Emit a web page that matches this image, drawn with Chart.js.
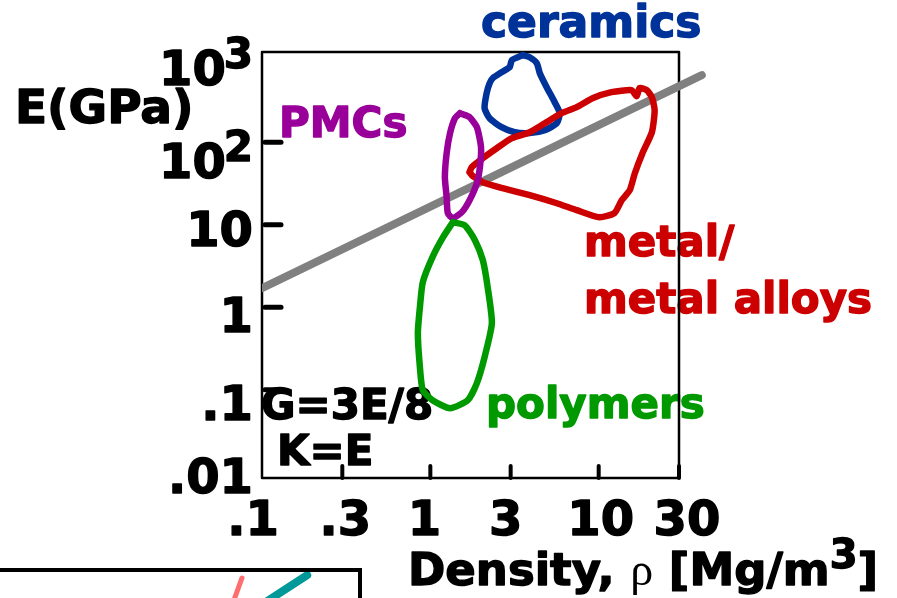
<!DOCTYPE html>
<html><head><meta charset="utf-8">
<script src="https://cdn.jsdelivr.net/npm/chart.js@4.4.1/dist/chart.umd.min.js"></script>
<style>
html,body{margin:0;padding:0;background:#fff;overflow:hidden;}
#wrap{position:relative;width:897px;height:598px;overflow:hidden;}
#main{position:absolute;left:0;top:0;}
#insetBox{position:absolute;left:-5px;top:568px;width:363px;height:40px;border-top:4px solid #000;border-right:4px solid #000;}
#inset{position:absolute;left:0;top:572px;}
</style></head>
<body><div id="wrap"><canvas id="main" width="897" height="598"></canvas><div id="insetBox"></div><canvas id="inset" width="358" height="26"></canvas></div>
<script>
// ---------- data (density in Mg/m^3, modulus E in GPa) ----------
const guideDensity = [0.1, 41];
const guideModulus = [1.7, 650];

const ceramicsDensity = [3.54, 3.05, 2.96, 2.65, 2.35, 2.25, 2.16, 2.10, 2.25, 2.65, 3.17, 3.89, 4.79, 5.64, 5.87, 5.48, 4.91, 4.47, 4.29, 3.89, 3.54];
const ceramicsModulus = [1135, 986, 811, 705, 597, 519, 393, 258, 195, 152, 132, 129, 140, 170, 225, 305, 464, 686, 908, 1072, 1135];

const metalDensity = [1.71, 1.76, 2.05, 2.48, 3.05, 3.89, 4.79, 6.03, 7.40, 9.20, 11.9, 15.7, 16.8, 17.5, 19.3, 20.7, 21.5, 20.7, 18.2, 16.4, 15.3, 13.7, 12.4, 10.1, 7.40, 5.64, 3.89, 2.69, 2.05, 1.79, 1.71];
const metalModulus = [43.3, 49.8, 64.0, 84.5, 112, 132, 170, 225, 266, 341, 404, 427, 361, 452, 427, 351, 244, 132, 73.6, 42.1, 26.2, 19.8, 13.8, 12.3, 15.0, 18.2, 22.8, 27.7, 32.7, 38.7, 43.3];

const pmcDensity = [1.50, 1.40, 1.31, 1.25, 1.22, 1.25, 1.27, 1.36, 1.54, 1.71, 1.89, 1.97, 2.00, 1.89, 1.71, 1.56, 1.50];
const pmcModulus = [225, 195, 129, 73.6, 37.7, 21.5, 13.8, 12.0, 14.2, 19.8, 31.8, 49.8, 86.9, 152, 201, 218, 225];

const polymerDensity = [1.36, 1.19, 1.03, 0.902, 0.867, 0.843, 0.867, 0.902, 1.03, 1.31, 1.67, 1.89, 2.10, 2.32, 2.19, 2.05, 1.84, 1.60, 1.36];
const polymerModulus = [10.7, 7.05, 4.04, 2.01, 1.0, 0.484, 0.187, 0.0986, 0.0746, 0.0597, 0.0746, 0.120, 0.248, 0.640, 1.75, 3.71, 6.49, 9.86, 10.7];

const xTickValues = [0.1, 0.3, 1, 3, 10, 30];
const xTickLabels = ['.1', '.3', '1', '3', '10', '30'];
const xTickMarks = [0.3, 1, 3, 10, 30];
const yTickValues = [1000, 100, 10, 1, 0.1, 0.01];
const yTickLabels = ['10^3', '10^2', '10', '1', '.1', '.01'];
const yTickMarks = [100, 10, 1, 0.1];

// fragment of the neighbouring chart (arbitrary units)
const insetPinkX = [67.6, 65.3];
const insetPinkY = [7.7, -1];
const insetTealX = [85.8, 74.3];
const insetTealY = [8.8, -1.5];

// ---------- layout / style ----------
const FONT = '"DejaVu Sans", "Liberation Sans", sans-serif';
const xLabelDx = [-9, 3, -6, -5, 2, 8];
const yLabelDy = [25, 36, 21, 25, 30, 21];

function zip(xs, ys) { return xs.map((v, i) => ({x: v, y: ys[i]})); }
function put(ctx, s, x, y, px, color, align) {
  ctx.font = 'bold ' + px + 'px ' + FONT;
  ctx.fillStyle = color;
  ctx.strokeStyle = color;
  ctx.lineWidth = 1.4;
  ctx.lineJoin = 'round';
  ctx.textAlign = align || 'left';
  ctx.textBaseline = 'alphabetic';
  ctx.fillText(s, x, y);
  ctx.strokeText(s, x, y);
  return ctx.measureText(s).width;
}

const annot = {
  id: 'annot',
  beforeDatasetsDraw(chart) {
    const {ctx, chartArea: a, scales: {x, y}} = chart;
    ctx.save();
    // y tick labels
    const yRight = 253;
    yTickValues.forEach((v, i) => {
      const base = y.getPixelForValue(v) + yLabelDy[i];
      const parts = yTickLabels[i].split('^');
      if (parts[1]) {
        const w = put(ctx, parts[1], yRight, base - 17, 42, '#000', 'right');
        put(ctx, parts[0], yRight - w + 2, base, 48, '#000', 'right');
      } else {
        put(ctx, parts[0], yRight, base, 48, '#000', 'right');
      }
    });
    // x tick labels
    xTickValues.forEach((v, i) => {
      put(ctx, xTickLabels[i], x.getPixelForValue(v) + xLabelDx[i], 535, 48, '#000', 'center');
    });
    // axis titles
    put(ctx, 'E(GPa)', 15, 123, 47, '#000');
    let cx = 408;
    const by = 585;
    cx += put(ctx, 'Density, ', cx, by, 45, '#000');
    ctx.font = '46px "Liberation Serif", serif';
    ctx.fillText('\u03C1', cx, by);
    cx += ctx.measureText('\u03C1').width;
    cx += put(ctx, ' [Mg/m', cx, by, 45, '#000');
    cx += put(ctx, '3', cx, by - 17, 40, '#000');
    put(ctx, ']', cx, by, 45, '#000');
    // class labels
    put(ctx, 'ceramics', 481, 37, 44, '#003399');
    put(ctx, 'PMCs', 279, 137, 42, '#990099');
    put(ctx, 'metal/', 584, 256, 42, '#CC0000');
    put(ctx, 'metal alloys', 584, 313, 42, '#CC0000');
    put(ctx, 'polymers', 486, 418, 42, '#009900');
    put(ctx, 'G=3E/8', 261, 419, 42, '#000');
    put(ctx, 'K=E', 277, 465, 42, '#000');
    // frame
    ctx.strokeStyle = '#000';
    ctx.lineWidth = 2.5;
    ctx.strokeRect(a.left, a.top, a.right - a.left, a.bottom - a.top);
    // tick marks
    ctx.lineCap = 'round';
    ctx.lineWidth = 5;
    yTickMarks.forEach(v => {
      const py = y.getPixelForValue(v);
      ctx.beginPath(); ctx.moveTo(a.left + 3, py); ctx.lineTo(a.left + 19, py); ctx.stroke();
    });
    ctx.lineWidth = 4;
    xTickMarks.forEach(v => {
      const px = x.getPixelForValue(v);
      ctx.beginPath(); ctx.moveTo(px, a.bottom); ctx.lineTo(px, a.bottom - 12); ctx.stroke();
    });
    ctx.restore();
  }
};

new Chart(document.getElementById('main'), {
  type: 'line',
  data: {
    datasets: [
      {label: 'E/\u03C1 = const', data: zip(guideDensity, guideModulus), borderColor: '#808080', borderWidth: 8, tension: 0, order: 10, clip: {left: 0, top: 40, right: 40, bottom: 0}},
      {label: 'ceramics', data: zip(ceramicsDensity, ceramicsModulus), borderColor: '#003399', order: 4, clip: false},
      {label: 'metal/metal alloys', data: zip(metalDensity, metalModulus), borderColor: '#CC0000', order: 3, clip: false},
      {label: 'PMCs', data: zip(pmcDensity, pmcModulus), borderColor: '#990099', order: 2, clip: false},
      {label: 'polymers', data: zip(polymerDensity, polymerModulus), borderColor: '#009900', order: 1, clip: false}
    ]
  },
  options: {
    responsive: false,
    animation: false,
    devicePixelRatio: 1,
    layout: {padding: {left: 262, right: 218, top: 52, bottom: 120}},
    elements: {
      line: {borderWidth: 6.5, tension: 0.2, fill: false, borderJoinStyle: 'round', borderCapStyle: 'round', capBezierPoints: false},
      point: {radius: 0, hoverRadius: 0}
    },
    scales: {
      x: {type: 'logarithmic', min: 0.1, max: 30, display: false, bounds: 'data'},
      y: {type: 'logarithmic', min: 0.0085, max: 1240, display: false, bounds: 'data'}
    },
    plugins: {legend: {display: false}, tooltip: {enabled: false}}
  },
  plugins: [annot]
});

new Chart(document.getElementById('inset'), {
  type: 'line',
  data: {
    datasets: [
      {data: zip(insetPinkX, insetPinkY), borderColor: '#FF6E6E', borderWidth: 5, clip: false},
      {data: zip(insetTealX, insetTealY), borderColor: '#009999', borderWidth: 8, clip: false}
    ]
  },
  options: {
    responsive: false, animation: false, devicePixelRatio: 1,
    layout: {padding: 0},
    elements: {line: {borderCapStyle: 'round', tension: 0}, point: {radius: 0}},
    scales: {
      x: {type: 'linear', min: 0, max: 100, display: false},
      y: {type: 'linear', min: 0, max: 10, display: false}
    },
    plugins: {legend: {display: false}, tooltip: {enabled: false}}
  }
});
</script>
</body></html>
